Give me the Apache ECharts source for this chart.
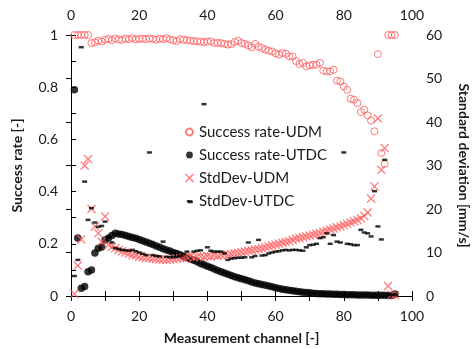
<!DOCTYPE html>
<html><head><meta charset="utf-8">
<script src="https://cdn.jsdelivr.net/npm/echarts@6/dist/echarts.min.js"></script>
<style>html,body{margin:0;padding:0;background:#fff}#c{width:473px;height:349px}</style>
</head><body><div id="c"></div>
<script>
const channels = [1,2,3,4,5,6,7,8,9,10,11,12,13,14,15,16,17,18,19,20,21,22,23,24,25,26,27,28,29,30,31,32,33,34,35,36,37,38,39,40,41,42,43,44,45,46,47,48,49,50,51,52,53,54,55,56,57,58,59,60,61,62,63,64,65,66,67,68,69,70,71,72,73,74,75,76,77,78,79,80,81,82,83,84,85,86,87,88,89,90,91,92,93,94,95];

const successUDM = [1,1,1,1,1,
0.969,0.972,0.978,0.975,0.982,
0.985,0.980,0.987,0.983,0.981,
0.986,0.984,0.988,0.983,0.985,
0.986,0.984,0.987,0.985,0.982,
0.986,0.984,0.988,0.983,0.980,
0.977,0.984,0.982,0.980,0.978,
0.977,0.976,0.974,0.973,0.975,
0.976,0.969,0.970,0.969,0.966,
0.963,0.965,0.973,0.978,0.969,
0.966,0.960,0.953,0.966,0.955,
0.950,0.944,0.940,0.937,0.930,
0.925,0.931,0.928,0.918,0.918,
0.900,0.889,0.893,0.880,0.884,
0.886,0.886,0.893,0.863,0.861,
0.861,0.867,0.825,0.822,0.803,
0.790,0.756,0.752,0.739,0.705,
0.714,0.692,0.672,0.631,0.927,
0.548,0.506,1,1,1];

const successUTDC = [0.79,0.222,0.030,0.036,0.093,
0.100,0.165,0.183,0.188,0.215,
0.222,0.232,0.240,0.238,0.236,
0.232,0.228,0.224,0.221,0.216,
0.212,0.207,0.202,0.197,0.192,
0.187,0.181,0.176,0.172,0.167,
0.163,0.158,0.152,0.147,0.142,
0.137,0.131,0.125,0.120,0.114,
0.109,0.103,0.098,0.093,0.088,
0.083,0.079,0.074,0.070,0.066,
0.062,0.058,0.054,0.050,0.047,
0.044,0.041,0.038,0.035,0.032,
0.029,0.026,0.024,0.022,0.020,
0.018,0.016,0.014,0.013,0.012,
0.011,0.010,0.009,0.009,0.008,
0.008,0.007,0.007,0.006,0.006,
0.005,0.005,0.005,0.004,0.004,
0.004,0.004,0.003,0.003,0.003,
0.003,0.003,0.002,0.002,0.008];

const stdUDM = [0.5,7.0,13.0,30.0,31.5,
20.0,16.0,14.4,12.5,18.3,
11.7,11.3,11.0,10.6,10.3,
10.0,9.7,9.4,9.3,9.0,
8.9,8.8,8.7,8.6,8.5,
8.4,8.4,8.3,8.4,8.5,
8.6,8.7,8.8,9.0,9.2,
8.8,9.0,9.1,9.0,9.2,
9.1,9.3,9.2,9.4,9.5,
9.4,9.6,9.8,9.9,10.1,
10.2,10.4,10.5,10.7,10.8,
11.0,11.2,11.4,11.6,11.8,
12.0,12.2,12.4,12.6,12.9,
13.2,13.3,13.5,13.7,13.9,
14.1,14.3,14.5,14.8,15.0,
15.3,15.5,15.8,16.0,16.3,
16.6,16.9,17.2,17.5,17.9,
18.4,19.2,22.4,25.2,40.8,
29.0,34.0,2.3,0.3,0.2];

const stdUTDC = [4.6,8.3,57.2,26.3,17.5,
20.2,16.9,15.9,16.1,17.1,
13.5,12.3,11.0,10.8,10.6,
10.5,10.4,10.6,10.3,10.0,
9.7,9.4,33.0,9.4,9.2,
9.1,12.5,9.0,8.9,8.9,
9.0,9.2,9.6,10.2,21.6,
10.2,10.4,10.5,44.1,11.2,
10.4,10.2,10.2,10.2,9.8,
8.3,8.6,8.7,8.8,8.8,
8.9,12.3,8.9,9.2,12.9,
9.3,9.4,9.8,10.0,10.2,
10.3,10.5,10.6,10.5,10.6,
10.6,10.5,10.4,11.2,11.7,
11.8,12.0,13.3,13.5,14.4,
12.0,14.0,12.5,12.3,33.0,
12.0,11.9,11.7,11.7,15.2,
14.6,14.4,13.7,24.1,16.0,
13.0,31.3,0.5,0.3,0.3];

const xTicks = [0,20,40,60,80,100];
const leftTicks = ['0','0.2','0.4','0.6','0.8','1'];
const rightTicks = [0,10,20,30,40,50,60];

const FONT = 'Lato';
const TXT = '#1a1a1a';
const RED = '#ff5a5a';
const X_PATH = 'path://M0,1L1,0L5,4L9,0L10,1L6,5L10,9L9,10L5,6L1,10L0,9L4,5Z';
const DASH_ICON = 'path://M0,0M10,10M2,4h6v2.4h-6z';
const CIRCLE_ICON = 'path://M0,0M10,10M5,1.2A3.8,3.8,0,1,1,4.99,1.2Z';

const pair = (ys) => channels.map((c, i) => [c, ys[i]]);

const lbl = {fontFamily: FONT, fontSize: 14, color: TXT};
const nameStyle = {fontFamily: FONT, fontSize: 14, fontWeight: 'bold', color: TXT};
const line = {show: true, lineStyle: {color: '#000', width: 1}};
const tick = {show: true, inside: true, length: 5, lineStyle: {color: '#000', width: 1}};

const xCommon = {
  type: 'value', min: 0, max: 100, interval: 10,
  axisLine: line, axisTick: tick, splitLine: {show: false},
  axisLabel: Object.assign({}, lbl, {margin: 13,
    formatter: v => { const r = Math.round(v); return xTicks.indexOf(r) >= 0 ? String(r) : ''; }})
};

const chart = echarts.init(document.getElementById('c'), null, {renderer: 'canvas'});
chart.setOption({
  animation: false,
  backgroundColor: '#fff',
  grid: {left: 71, right: 61, top: 35, bottom: 53, containLabel: false, outerBoundsMode: 'none'},
  xAxis: [
    Object.assign({}, xCommon, {position: 'bottom', name: 'Measurement channel [-]',
      nameLocation: 'middle', nameGap: 35, nameTextStyle: nameStyle}),
    Object.assign({}, xCommon, {position: 'top'})
  ],
  yAxis: [
    {type: 'value', min: 0, max: 1, interval: 0.1, position: 'left',
     axisLine: line, axisTick: tick, splitLine: {show: false},
     axisLabel: Object.assign({}, lbl, {margin: 13,
       formatter: v => { const k = Math.round(v * 10); return k % 2 ? '' : leftTicks[k / 2]; }}),
     name: 'Success rate [-]', nameLocation: 'middle', nameGap: 47, nameRotate: 90, nameTextStyle: nameStyle},
    {type: 'value', min: 0, max: 60, interval: 10, position: 'right',
     axisLine: line, axisTick: tick, splitLine: {show: false},
     axisLabel: Object.assign({}, lbl, {margin: 14,
       formatter: v => { const r = Math.round(v); return rightTicks.indexOf(r) >= 0 ? String(r) : ''; }}),
     name: 'Standard deviation [mm/s]', nameLocation: 'middle', nameGap: 45, nameRotate: -90, nameTextStyle: nameStyle}
  ],
  legend: {
    orient: 'vertical', left: 184, top: 124, padding: 0, itemWidth: 9, itemHeight: 9, itemGap: 7,
    textStyle: {fontFamily: FONT, fontSize: 15, color: TXT, lineHeight: 16},
    data: [
      {name: 'Success rate-UDM', icon: CIRCLE_ICON},
      {name: 'Success rate-UTDC', icon: CIRCLE_ICON},
      {name: 'StdDev-UDM'},
      {name: 'StdDev-UTDC', icon: DASH_ICON}
    ]
  },
  series: [
    {name: 'Success rate-UDM', type: 'scatter', xAxisIndex: 0, yAxisIndex: 0,
     data: pair(successUDM), symbol: 'circle', symbolSize: 7,
     itemStyle: {color: 'rgba(0,0,0,0)', borderColor: RED, borderWidth: 1}},
    {name: 'Success rate-UTDC', type: 'scatter', xAxisIndex: 0, yAxisIndex: 0,
     data: pair(successUTDC), symbol: 'circle', symbolSize: 7.5,
     itemStyle: {color: '#000'}},
    {name: 'StdDev-UDM', type: 'scatter', xAxisIndex: 0, yAxisIndex: 1,
     data: pair(stdUDM), symbol: X_PATH, symbolSize: 9,
     itemStyle: {color: RED}},
    {name: 'StdDev-UTDC', type: 'scatter', xAxisIndex: 0, yAxisIndex: 1,
     data: pair(stdUTDC), symbol: 'rect', symbolSize: [5, 2.5],
     itemStyle: {color: '#000'}}
  ]
});
</script>
</body></html>
